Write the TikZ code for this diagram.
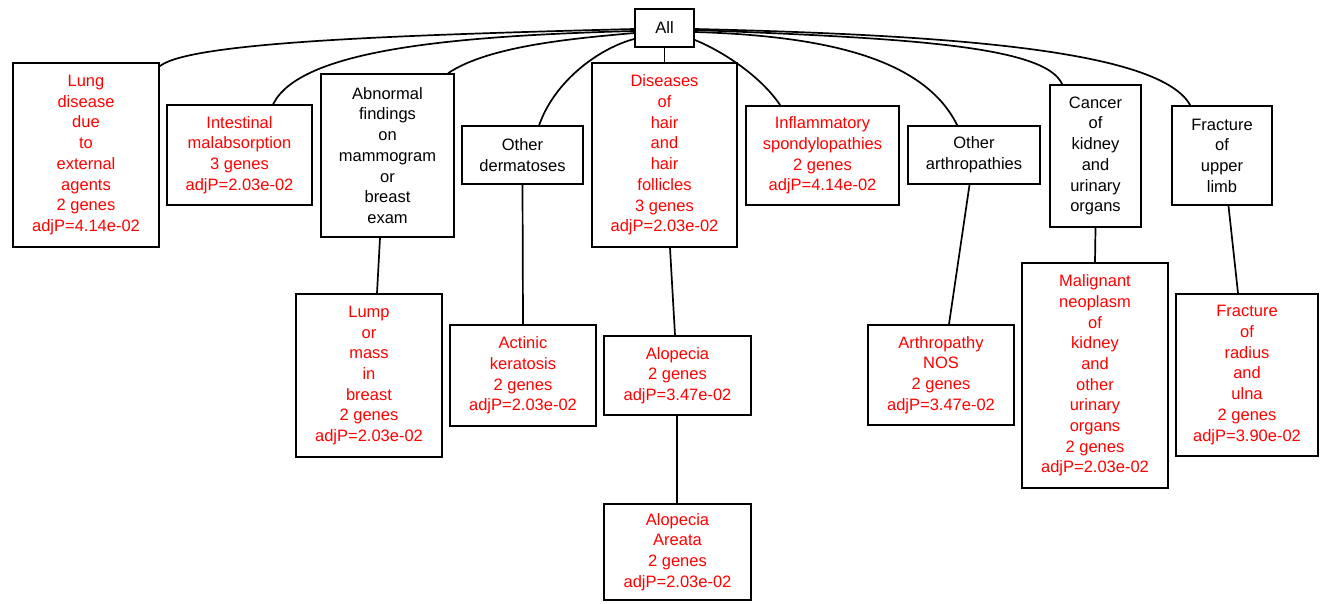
\documentclass[tikz,border=0pt]{standalone}
\usepackage{fontspec}
\setmainfont{Liberation Sans}
\begin{document}
\begin{tikzpicture}[x=1pt,y=-1pt,
  box/.style={draw, line width=1.7pt, rectangle, inner sep=0pt, align=center,
              font=\fontsize{16.5}{20.7}\selectfont},
  hit/.style={box, text=red},
  edge/.style={line width=1.7pt}]
\useasboundingbox[fill=white] (0,0) rectangle (1327,604);

% top
\node[box, minimum width=59pt, minimum height=38pt] (all) at (664.5,28) {All};

% level 1
\node[hit, minimum width=146pt, minimum height=184pt] (lung) at (86,155)
  {Lung\\disease\\due\\to\\external\\agents\\2 genes\\adjP=4.14e-02};
\node[hit, minimum width=145pt, minimum height=100pt] (intest) at (239.5,155)
  {Intestinal\\malabsorption\\3 genes\\adjP=2.03e-02};
\node[box, minimum width=133pt, minimum height=163pt] (abn) at (387.5,155.5)
  {Abnormal\\findings\\on\\mammogram\\or\\breast\\exam};
\node[box, minimum width=121pt, minimum height=58pt] (oder) at (522.5,155)
  {Other\\dermatoses};
\node[hit, minimum width=145pt, minimum height=184pt] (hair) at (664.5,155)
  {Diseases\\of\\hair\\and\\hair\\follicles\\3 genes\\adjP=2.03e-02};
\node[hit, minimum width=153pt, minimum height=99pt] (infl) at (822.5,155.5)
  {Inflammatory\\spondylopathies\\2 genes\\adjP=4.14e-02};
\node[box, minimum width=132pt, minimum height=58pt] (oart) at (974,155)
  {Other\\arthropathies};
\node[box, minimum width=91pt, minimum height=142pt] (canc) at (1095.5,156)
  {Cancer\\of\\kidney\\and\\urinary\\organs};
\node[box, minimum width=100pt, minimum height=99pt] (frup) at (1222,155.5)
  {Fracture\\of\\upper\\limb};

% level 2
\node[hit, minimum width=146pt, minimum height=163pt] (lump) at (369,375.5)
  {Lump\\or\\mass\\in\\breast\\2 genes\\adjP=2.03e-02};
\node[hit, minimum width=146pt, minimum height=101pt] (actin) at (523,375.5)
  {Actinic\\keratosis\\2 genes\\adjP=2.03e-02};
\node[hit, minimum width=147pt, minimum height=79pt] (alop) at (677.5,375.5)
  {Alopecia\\2 genes\\adjP=3.47e-02};
\node[hit, minimum width=146pt, minimum height=100pt] (arthnos) at (941,375)
  {Arthropathy\\NOS\\2 genes\\adjP=3.47e-02};
\node[hit, minimum width=146pt, minimum height=225pt] (malig) at (1095,375.5)
  {Malignant\\neoplasm\\of\\kidney\\and\\other\\urinary\\organs\\2 genes\\adjP=2.03e-02};
\node[hit, minimum width=142pt, minimum height=162pt] (frrad) at (1247,375)
  {Fracture\\of\\radius\\and\\ulna\\2 genes\\adjP=3.90e-02};

% level 3
\node[hit, minimum width=147pt, minimum height=96pt] (areata) at (677.5,552)
  {Alopecia\\Areata\\2 genes\\adjP=2.03e-02};

% edges from All
\draw[edge] ([yshift=-1pt]all.west) .. controls (400,35) and (190,42) .. ([yshift=-4pt]lung.north east);
\draw[edge] ([yshift=-3pt]all.west) .. controls (450,36) and (300,50) .. ([xshift=107pt]intest.north west);
\draw[edge] ([yshift=-5pt]all.west) .. controls (580,38) and (490,45) .. ([xshift=128pt]abn.north west);
\draw[edge] ([yshift=-11pt]all.west) .. controls (600,48) and (555,80) .. ([xshift=78pt]oder.north west);
\draw[edge] (all.south) -- (hair.north);
\draw[edge] ([yshift=-12pt]all.east) .. controls (720,50) and (760,75) .. ([xshift=35pt]infl.north west);
\draw[edge] ([yshift=-4pt]all.east) .. controls (830,36) and (925,60) .. ([xshift=50pt]oart.north west);
\draw[edge] ([yshift=-2pt]all.east) .. controls (900,38) and (1045,45) .. ([xshift=13pt]canc.north west);
\draw[edge] ([yshift=-1pt]all.east) .. controls (950,35) and (1160,50) .. ([xshift=19pt]frup.north west);

% lower edges
\draw[edge] ([xshift=-7.5pt]abn.south) -- ([xshift=8pt]lump.north);
\draw[edge] (oder.south) -- (actin.north);
\draw[edge] ([xshift=5.5pt]hair.south) -- ([xshift=-2.5pt]alop.north);
\draw[edge] ([xshift=-0.5pt]alop.south) -- ([xshift=-0.5pt]areata.north);
\draw[edge] ([xshift=-4.5pt]oart.south) -- ([xshift=8pt]arthnos.north);
\draw[edge] (canc.south) -- (malig.north);
\draw[edge] ([xshift=6.5pt]frup.south) -- ([xshift=-9pt]frrad.north);
\end{tikzpicture}
\end{document}
